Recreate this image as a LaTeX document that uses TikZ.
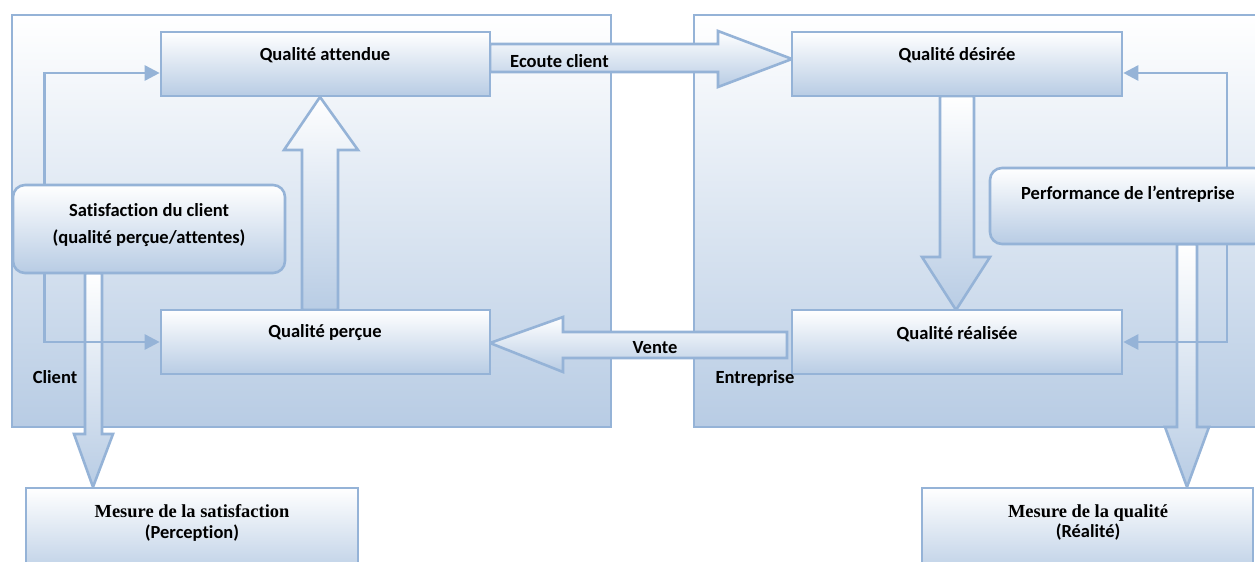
\documentclass[tikz,border=0pt]{standalone}
\usepackage{fontspec}
\setmainfont{Carlito}[Ligatures=NoCommon]
\newfontfamily\timesfont{Liberation Serif}
\usetikzlibrary{arrows.meta}
\definecolor{edge}{HTML}{95B3D7}
\definecolor{deep}{HTML}{B8CCE4}

\begin{document}
\begin{tikzpicture}[x=1bp,y=-1bp,
  box/.style={draw=edge, line width=2.6bp, top color=white, bottom color=deep, inner sep=0pt},
  rbox/.style={box, rounded corners=12bp},
  block/.style={draw=edge, line width=2.6bp, top color=white, bottom color=deep, line join=miter},
  fb/.style={draw=edge, line width=2.6bp, -{Triangle[length=15bp,width=15bp]}},
  lbl/.style={font=\bfseries\fontsize{18.6}{27}\selectfont, inner sep=0pt, align=center},
  serif/.style={font=\bfseries\fontsize{18.5}{21}\selectfont, inner sep=0pt, align=center},
]
\useasboundingbox (0,0) rectangle (1255,562);
\clip (0,0) rectangle (1255,562);

% the two zones: client and company
\node[box, minimum width=599bp, minimum height=412bp] (client) at (311.5,221) {};
\node[box, minimum width=600bp, minimum height=412bp] (firm) at (994,221) {};

% block arrows
\path[block] (490,44) -- (718,44) -- (718,31) -- (792,59) -- (718,87) -- (718,72) -- (490,72) -- cycle;
\path[block] (787,332) -- (563,332) -- (563,317) -- (490,343) -- (563,372) -- (563,358) -- (787,358) -- cycle;
\path[block] (302,310) -- (302,150) -- (284,150) -- (320,97) -- (358,150) -- (338,150) -- (338,310) -- cycle;
\path[block] (940,96) -- (940,257) -- (922,257) -- (956,310) -- (990,257) -- (974,257) -- (974,96) -- cycle;
\path[block] (85,273) -- (85,434) -- (74,434) -- (93,487) -- (113,434) -- (102,434) -- (102,273) -- cycle;
\path[block] (1177,244) -- (1177,427) -- (1165,427) -- (1187,487) -- (1209,427) -- (1197,427) -- (1197,244) -- cycle;

% quality boxes
\node[box, minimum width=329bp, minimum height=64bp] (qa) at (325.5,64) {};
\node[box, minimum width=329bp, minimum height=64bp] (qp) at (325.5,342) {};
\node[box, minimum width=330bp, minimum height=64bp] (qd) at (957,64) {};
\node[box, minimum width=330bp, minimum height=64bp] (qr) at (957,342) {};
\node[rbox, minimum width=272bp, minimum height=88bp] (sat) at (149,229) {};
\node[rbox, minimum width=276bp, minimum height=76bp] (perf) at (1128,206) {};

% feedback loops
\draw[fb] ([xshift=33bp]sat.north west) |- ([yshift=-9bp]qa.west);
\draw[fb] ([xshift=33bp]sat.south west) |- (qp.west);
\draw[fb] ([xshift=99bp]perf.north) |- ([yshift=-9bp]qd.east);
\draw[fb] ([xshift=99bp]perf.south) |- (qr.east);

% measurement boxes
\node[box, minimum width=332bp, minimum height=92bp] (ms) at (192,534) {};
\node[box, minimum width=331bp, minimum height=92bp] (mq) at (1087.5,534) {};

% texts
\node[lbl] (tqa) at (325,55) {Qualité attendue};
\node[lbl] (tqp) at (325,333) {Qualité perçue};
\node[lbl] (tqd) at (957,55) {Qualité désirée};
\node[lbl] (tqr) at (957,334) {Qualité réalisée};
\node[lbl] (tsat) at (149,225.5) {Satisfaction du client\\(qualité perçue/attentes)};
\node[lbl] (tperf) at (1128,194) {Performance de l’entreprise};
\node[lbl, anchor=base west] (tecoute) at (510,67.5) {Ecoute client};
\node[lbl] (tvente) at (655,348) {Vente};
\node[lbl] (tclient) at (55,377) {Client};
\node[lbl] (tfirm) at (755,378) {Entreprise};
\node[serif] (tms) at (192,522.5) {{\timesfont Mesure de la satisfaction}\\(Perception)};
\node[serif] (tmq) at (1088,522.5) {{\timesfont Mesure de la qualité}\\(Réalité)};
\end{tikzpicture}
\end{document}
